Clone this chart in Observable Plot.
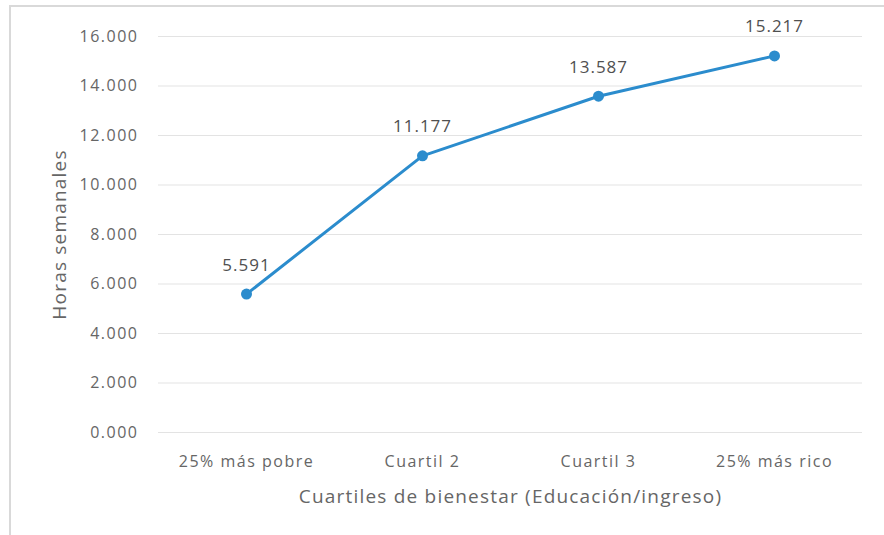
<!DOCTYPE html>
<html><head><meta charset="utf-8">
<script src="https://cdn.jsdelivr.net/npm/d3@7"></script>
<script src="https://cdn.jsdelivr.net/npm/@observablehq/plot@0.6"></script>
<style>
body{margin:0;background:#fff;font-family:"Open Sans",sans-serif;}
#wrap{position:relative;width:884px;height:535px;}
#frame{position:absolute;left:9px;top:5px;width:900px;height:600px;border-left:2px solid #d9d9d9;border-top:2px solid #d9d9d9;}
</style></head>
<body><div id="wrap"><div id="frame"></div></div>
<script>
const categories = ["25% más pobre", "Cuartil 2", "Cuartil 3", "25% más rico"];
const values = [5.591, 11.177, 13.587, 15.217];
const yTicks = [0, 2, 4, 6, 8, 10, 12, 14, 16];
const yLabel = "Horas semanales";
const xLabel = "Cuartiles de bienestar (Educación/ingreso)";

const data = categories.map((c, i) => ({cat: c, v: values[i]}));
const fmt = d3.format(".3f");
const blue = "#2b8ccd";
const gray = "#666666";

const chart = Plot.plot({
  width: 884, height: 535,
  marginLeft: 158, marginRight: 22, marginTop: 36, marginBottom: 103,
  style: {fontFamily: "'Open Sans', sans-serif", fontSize: "16px", color: gray, background: "transparent"},
  x: {type: "band", domain: categories, padding: 0},
  y: {domain: [0, 16]},
  marks: [
    Plot.gridY(yTicks, {stroke: "#e3e3e3", strokeOpacity: 1, strokeWidth: 1.2}),
    Plot.axisY(yTicks, {tickSize: 0, tickPadding: 20, tickFormat: fmt, fontSize: 16, fill: gray,
      label: yLabel, labelAnchor: "center", labelArrow: "none", labelOffset: 106}),
    Plot.axisX({tickSize: 0, tickPadding: 23, fontSize: 16, fill: gray,
      label: xLabel, labelAnchor: "center", labelArrow: "none", labelOffset: 70}),
    Plot.line(data, {x: "cat", y: "v", stroke: blue, strokeWidth: 3}),
    Plot.dot(data, {x: "cat", y: "v", fill: blue, r: 5.5}),
    Plot.text(data, {x: "cat", y: "v", text: d => fmt(d.v), dy: -29, fontSize: 17, fill: "#505050"})
  ]
});
chart.querySelectorAll("[aria-label='y-axis label'] text, [aria-label='x-axis label'] text").forEach(t => { t.setAttribute("font-size", "19"); t.style.letterSpacing = "1.2px"; });
chart.querySelectorAll("[aria-label='x-axis tick label'] text").forEach(t => { t.style.letterSpacing = "1.5px"; });
chart.querySelectorAll("[aria-label='y-axis tick label'] text").forEach(t => { t.style.letterSpacing = "1.5px"; });
chart.querySelectorAll("[aria-label='text'] text").forEach(t => { t.style.letterSpacing = "1px"; });
chart.style.position = "absolute"; chart.style.left = "0"; chart.style.top = "0";
document.getElementById("wrap").appendChild(chart);
</script>
</body></html>
